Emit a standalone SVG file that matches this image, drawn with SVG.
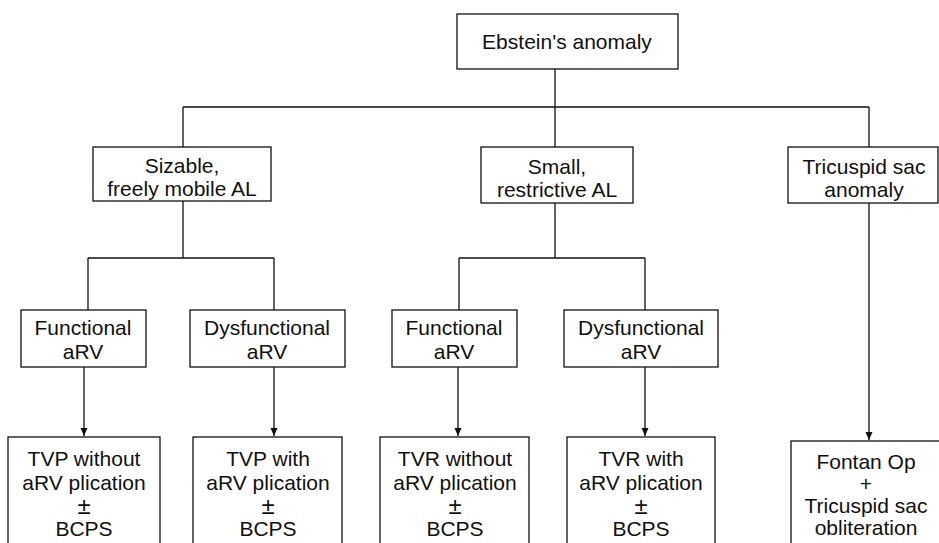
<svg xmlns="http://www.w3.org/2000/svg" width="939" height="543" viewBox="0 0 939 543">
<style>
.box{fill:#fff;stroke:#111;stroke-width:1.3}
.t{font-family:"Liberation Sans",Arial,sans-serif;font-size:21px;fill:#111;text-anchor:middle}
.pm{font-size:24px}
.c{fill:none;stroke:#111;stroke-width:1.3}
</style>
<defs>
<marker id="ah" viewBox="0 0 8 10" refX="8" refY="5" markerWidth="8" markerHeight="10" markerUnits="userSpaceOnUse" orient="auto">
<path d="M0,1.5 L8,5 L0,8.5 Z" fill="#111"/>
</marker>
</defs>
<g id="connectors">
<path class="c" d="M555,69 V107 M183,107 H869 M183,107 V147 M555,107 V147 M869,107 V147"/>
<path class="c" d="M183,201 V258 M88,258 H274 M88,258 V310 M274,258 V310"/>
<path class="c" d="M555,203 V258 M459,258 H645 M459,258 V310 M645,258 V310"/>
<path class="c" d="M84,367 V436" marker-end="url(#ah)"/>
<path class="c" d="M274,367 V436" marker-end="url(#ah)"/>
<path class="c" d="M458,367 V436" marker-end="url(#ah)"/>
<path class="c" d="M645,367 V436" marker-end="url(#ah)"/>
<path class="c" d="M869,203 V440" marker-end="url(#ah)"/>
</g>
<g id="root"><rect class="box" x="457" y="14" width="221" height="55"/><text class="t" x="567" y="49">Ebstein's anomaly</text></g>
<g id="sizable"><rect class="box" x="93" y="147" width="178" height="54"/><text class="t" x="182" y="173">Sizable,</text><text class="t" x="182" y="196">freely mobile AL</text></g>
<g id="small"><rect class="box" x="481" y="147" width="152" height="56"/><text class="t" x="557" y="174">Small,</text><text class="t" x="557" y="197">restrictive AL</text></g>
<g id="sac"><rect class="box" x="788" y="147" width="150" height="56"/><text class="t" x="864" y="174">Tricuspid sac</text><text class="t" x="864" y="197">anomaly</text></g>
<g id="func1"><rect class="box" x="21" y="310" width="125" height="57"/><text class="t" x="83" y="335">Functional</text><text class="t" x="83" y="359">aRV</text></g>
<g id="dys1"><rect class="box" x="190" y="310" width="155" height="57"/><text class="t" x="267" y="335">Dysfunctional</text><text class="t" x="267" y="359">aRV</text></g>
<g id="func2"><rect class="box" x="392" y="310" width="125" height="57"/><text class="t" x="454" y="335">Functional</text><text class="t" x="454" y="359">aRV</text></g>
<g id="dys2"><rect class="box" x="564" y="310" width="154" height="57"/><text class="t" x="641" y="335">Dysfunctional</text><text class="t" x="641" y="359">aRV</text></g>
<g id="tvp1"><rect class="box" x="8" y="437" width="152" height="120"/><text class="t" x="84" y="466">TVP without</text><text class="t" x="84" y="490">aRV plication</text><text class="t pm" x="84" y="514">±</text><text class="t" x="84" y="536">BCPS</text></g>
<g id="tvp2"><rect class="box" x="193" y="437" width="149" height="120"/><text class="t" x="268" y="466">TVP with</text><text class="t" x="268" y="490">aRV plication</text><text class="t pm" x="268" y="514">±</text><text class="t" x="268" y="536">BCPS</text></g>
<g id="tvr1"><rect class="box" x="380" y="437" width="149" height="120"/><text class="t" x="455" y="466">TVR without</text><text class="t" x="455" y="490">aRV plication</text><text class="t pm" x="455" y="514">±</text><text class="t" x="455" y="536">BCPS</text></g>
<g id="tvr2"><rect class="box" x="567" y="437" width="148" height="120"/><text class="t" x="641" y="466">TVR with</text><text class="t" x="641" y="490">aRV plication</text><text class="t pm" x="641" y="514">±</text><text class="t" x="641" y="536">BCPS</text></g>
<g id="fontan"><rect class="box" x="791" y="441" width="160" height="120"/><text class="t" x="866" y="469">Fontan Op</text><text class="t" x="866" y="491">+</text><text class="t" x="866" y="513">Tricuspid sac</text><text class="t" x="866" y="535">obliteration</text></g>
</svg>
